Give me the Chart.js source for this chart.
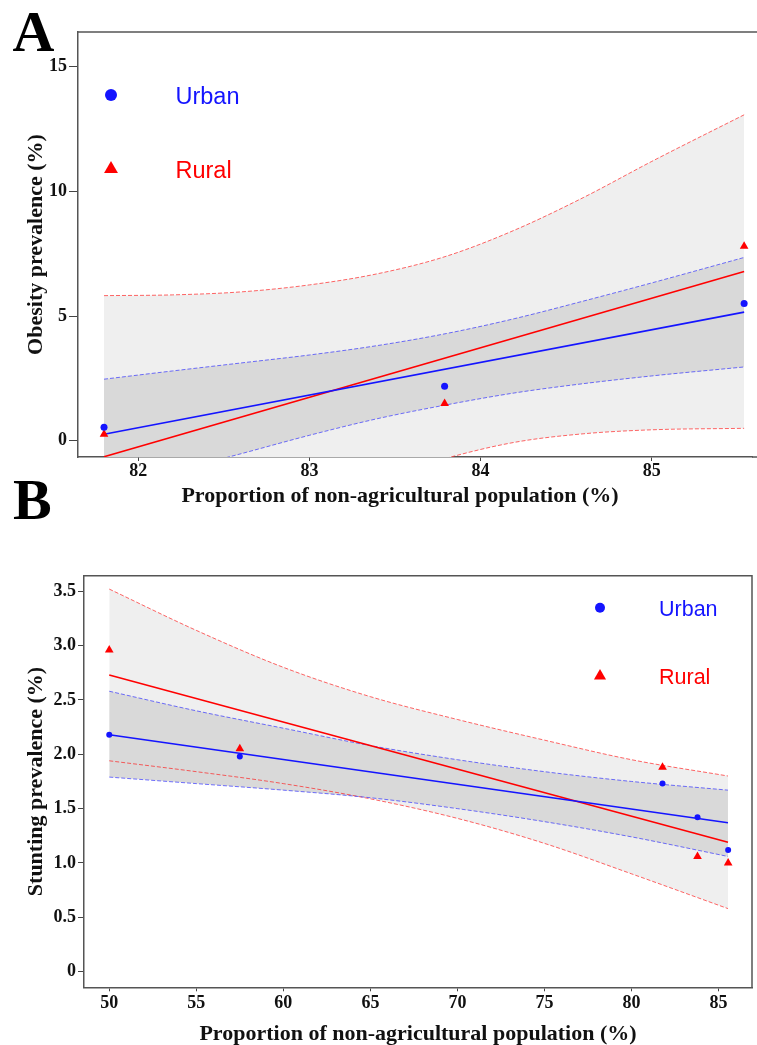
<!DOCTYPE html>
<html>
<head>
<meta charset="utf-8">
<title>Obesity and stunting prevalence vs non-agricultural population</title>
<script src="https://cdn.jsdelivr.net/npm/chart.js@4.4.1/dist/chart.umd.min.js"></script>
<style>
    html, body { margin: 0; padding: 0; background: #fff; }
    #wrap { position: relative; width: 757px; height: 1045px; overflow: hidden; }
    #wrap canvas { position: absolute; left: 0; }
    #chartA { top: 0; }
    #chartB { top: 470px; }
</style>
</head>
<body>
<div id="wrap">
    <canvas id="chartA" width="757" height="530"></canvas>
    <canvas id="chartB" width="757" height="575"></canvas>
</div>
<script>
    // ================================================================
    //  Data
    // ================================================================

    // Panel A: obesity
    var obesityX = [81.8, 83.79, 85.54];
    var urbanObesity = [0.54, 2.19, 5.5];
    var ruralObesity = [0.26, 1.5, 7.8];
    var fitXA = [81.8, 85.54];
    var urbanFitA = [0.26, 5.16];
    var ruralFitA = [-0.64, 6.79];
    var bandXA = [81.8, 82.2, 82.6, 83.0, 83.4, 83.8, 84.2, 84.6, 85.0, 85.54];
    var urbanUpperA = [2.47, 2.8, 3.12, 3.44, 3.82, 4.3, 4.9, 5.6, 6.33, 7.35];
    var urbanLowerA = [-1.95, -1.24, -0.52, 0.22, 0.89, 1.44, 1.92, 2.29, 2.6, 2.96];
    var ruralUpperA = [5.82, 5.85, 5.97, 6.25, 6.7, 7.4, 8.45, 9.75, 11.2, 13.07];
    var ruralLowerA = [-7.1, -5.51, -4.03, -2.69, -1.56, -0.7, -0.06, 0.28, 0.44, 0.5];
    var xTicksA = [82, 83, 84, 85];
    var yTicksA = [0, 5, 10, 15];

    // Panel B: stunting
    var stuntingX = [50, 57.5, 81.78, 83.79, 85.55];
    var urbanStunting = [2.18, 1.98, 1.73, 1.42, 1.12];
    var ruralStunting = [2.96, 2.05, 1.88, 1.06, 1.0];
    var fitXB = [50, 85.54];
    var urbanFitB = [2.18, 1.37];
    var ruralFitB = [2.73, 1.19];
    var bandXB = [50, 55, 60, 65, 70, 75, 80, 85.54];
    var urbanUpperB = [2.58, 2.4, 2.24, 2.08, 1.95, 1.84, 1.75, 1.67];
    var urbanLowerB = [1.79, 1.73, 1.67, 1.6, 1.5, 1.38, 1.24, 1.06];
    var ruralUpperB = [3.52, 3.14, 2.8, 2.53, 2.32, 2.13, 1.95, 1.8];
    var ruralLowerB = [1.94, 1.84, 1.73, 1.59, 1.41, 1.18, 0.9, 0.58];
    var xTicksB = [50, 55, 60, 65, 70, 75, 80, 85];
    var yTicksB = [0, 0.5, 1.0, 1.5, 2.0, 2.5, 3.0, 3.5];

    var X_TITLE = 'Proportion of non-agricultural population (%)';

    // ================================================================
    //  Styling
    // ================================================================
    var SERIF = "'Liberation Serif', 'Times New Roman', serif";
    var SANS = "'Liberation Sans', Arial, sans-serif";
    var BLUE = '#1414ff';
    var RED = '#ff0000';
    var BLUE_DASH = 'rgba(40,40,255,0.65)';
    var RED_DASH = 'rgba(255,20,20,0.65)';
    var FRAME = '#555';

    function pts(xs, ys) {
        return xs.map(function (x, i) { return { x: x, y: ys[i] }; });
    }

    // top / right frame, custom legend and loose texts
    var decorPlugin = {
        id: 'decor',
        afterDraw: function (chart, args, o) {
            var ctx = chart.ctx, a = chart.chartArea;
            ctx.save();
            ctx.strokeStyle = FRAME;
            ctx.lineWidth = 1.5;
            ctx.beginPath();
            ctx.moveTo(a.left, a.top);
            if (o.rightEdge) {
                ctx.lineTo(a.right, a.top);
                ctx.lineTo(a.right, a.bottom);
            } else {
                // frame runs off the right side of the canvas
                ctx.lineTo(chart.width, a.top);
                ctx.moveTo(a.right, a.bottom);
                ctx.lineTo(chart.width, a.bottom);
            }
            ctx.stroke();

            (o.legend || []).forEach(function (it) {
                ctx.fillStyle = it.color;
                ctx.beginPath();
                if (it.shape === 'triangle') {
                    ctx.moveTo(it.x, it.y - it.r);
                    ctx.lineTo(it.x + it.r * 0.866, it.y + it.r / 2);
                    ctx.lineTo(it.x - it.r * 0.866, it.y + it.r / 2);
                    ctx.closePath();
                } else {
                    ctx.arc(it.x, it.y, it.r, 0, Math.PI * 2);
                }
                ctx.fill();
                ctx.font = it.font;
                ctx.textAlign = 'left';
                ctx.textBaseline = 'alphabetic';
                ctx.fillText(it.label, it.textX, it.textY);
            });

            (o.texts || []).forEach(function (t) {
                ctx.fillStyle = t.color || '#000';
                ctx.font = t.font;
                ctx.textAlign = t.align || 'left';
                ctx.textBaseline = 'alphabetic';
                ctx.fillText(t.text, t.x, t.y);
            });
            ctx.restore();
        }
    };

    function makePanel(canvasId, p) {
        var tickFont = { family: SERIF, size: 18, weight: 'bold' };
        var titleFont = { family: SERIF, size: 22, weight: 'bold' };
        return new Chart(document.getElementById(canvasId), {
            type: 'line',
            data: {
                datasets: [
                    { label: 'Urban', data: pts(p.x, p.urban), showLine: false, pointStyle: 'circle',
                      pointRadius: p.dotR, backgroundColor: BLUE, borderColor: BLUE, pointBorderWidth: 0, order: 0 },
                    { label: 'Rural', data: pts(p.x, p.rural), showLine: false, pointStyle: 'triangle',
                      pointRadius: p.triR, backgroundColor: RED, borderColor: RED, pointBorderWidth: 0, order: 1 },
                    { label: 'Urban fit', data: pts(p.fitX, p.urbanFit), borderColor: BLUE, borderWidth: 1.6,
                      pointRadius: 0, fill: false, order: 2 },
                    { label: 'Rural fit', data: pts(p.fitX, p.ruralFit), borderColor: RED, borderWidth: 1.6,
                      pointRadius: 0, fill: false, order: 3 },
                    { label: 'Urban 95% CI', data: pts(p.bandX, p.urbanUpper), borderColor: BLUE_DASH, borderWidth: 1,
                      borderDash: [4, 2], pointRadius: 0, cubicInterpolationMode: 'monotone',
                      fill: '+1', backgroundColor: '#d9d9d9', order: 4 },
                    { label: 'Urban 95% CI lower', data: pts(p.bandX, p.urbanLower), borderColor: BLUE_DASH, borderWidth: 1,
                      borderDash: [4, 2], pointRadius: 0, cubicInterpolationMode: 'monotone', fill: false, order: 5 },
                    { label: 'Rural 95% CI', data: pts(p.bandX, p.ruralUpper), borderColor: RED_DASH, borderWidth: 1,
                      borderDash: [4, 2], pointRadius: 0, cubicInterpolationMode: 'monotone',
                      fill: '+1', backgroundColor: '#efefef', order: 6 },
                    { label: 'Rural 95% CI lower', data: pts(p.bandX, p.ruralLower), borderColor: RED_DASH, borderWidth: 1,
                      borderDash: [4, 2], pointRadius: 0, cubicInterpolationMode: 'monotone', fill: false, order: 7 }
                ]
            },
            options: {
                responsive: false,
                animation: false,
                events: [],
                devicePixelRatio: 1,
                layout: { padding: { top: p.padTop, right: p.padRight, left: 0, bottom: 0 } },
                scales: {
                    x: {
                        type: 'linear',
                        min: p.xMin, max: p.xMax,
                        afterBuildTicks: function (s) { s.ticks = p.xTicks.map(function (v) { return { value: v }; }); },
                        afterFit: function (s) { s.height = p.xAxisH; },
                        grid: { drawOnChartArea: false, drawTicks: true, tickLength: 4, tickColor: '#444' },
                        border: { display: true, color: FRAME, width: 1.5 },
                        ticks: { font: tickFont, color: '#111', padding: p.xTickPad, maxRotation: 0 },
                        title: { display: p.xTitle, text: X_TITLE, font: titleFont, color: '#111',
                                 padding: { top: 0, bottom: -3 } }
                    },
                    y: {
                        min: p.yMin, max: p.yMax,
                        afterBuildTicks: function (s) { s.ticks = p.yTicks.map(function (v) { return { value: v }; }); },
                        afterFit: function (s) { s.width = p.yAxisW; },
                        grid: { drawOnChartArea: false, drawTicks: true, tickLength: p.yTickLen, tickColor: '#444' },
                        border: { display: true, color: FRAME, width: 1.5 },
                        ticks: { font: tickFont, color: '#111', padding: 2, callback: p.yFmt },
                        title: { display: true, text: p.yTitle, font: titleFont, color: '#111', padding: { top: 23, bottom: 0 } }
                    }
                },
                plugins: {
                    legend: { display: false },
                    tooltip: { enabled: false },
                    filler: { drawTime: 'beforeDatasetsDraw' },
                    decor: p.decor
                }
            },
            plugins: [decorPlugin]
        });
    }

    // ================================================================
    //  Panel A
    // ================================================================
    makePanel('chartA', {
        x: obesityX, urban: urbanObesity, rural: ruralObesity,
        fitX: fitXA, urbanFit: urbanFitA, ruralFit: ruralFitA,
        bandX: bandXA, urbanUpper: urbanUpperA, urbanLower: urbanLowerA,
        ruralUpper: ruralUpperA, ruralLower: ruralLowerA,
        xTicks: xTicksA, yTicks: yTicksA,
        xMin: 81.648, xMax: 85.586, yMin: -0.65, yMax: 16.39,
        padTop: 32, padRight: 0, yAxisW: 78, xAxisH: 73, yTickLen: 9, xTickPad: 0,
        dotR: 3.5, triR: 5,
        xTitle: false,
        yTitle: 'Obesity prevalence (%)',
        yFmt: function (v) { return String(v); },
        decor: {
            rightEdge: false,
            legend: [
                { label: 'Urban', shape: 'circle', color: BLUE, x: 111, y: 95, r: 6,
                  textX: 175.5, textY: 104, font: '23.5px ' + SANS },
                { label: 'Rural', shape: 'triangle', color: RED, x: 111, y: 169, r: 8,
                  textX: 175.5, textY: 178.3, font: '23.5px ' + SANS }
            ],
            texts: [
                { text: 'A', x: 12.5, y: 50.7, font: 'bold 58px ' + SERIF },
                { text: X_TITLE, x: 400, y: 502, align: 'center', color: '#111', font: 'bold 22px ' + SERIF }
            ]
        }
    });

    // ================================================================
    //  Panel B
    // ================================================================
    makePanel('chartB', {
        x: stuntingX, urban: urbanStunting, rural: ruralStunting,
        fitX: fitXB, urbanFit: urbanFitB, ruralFit: ruralFitB,
        bandX: bandXB, urbanUpper: urbanUpperB, urbanLower: urbanLowerB,
        ruralUpper: ruralUpperB, ruralLower: ruralLowerB,
        xTicks: xTicksB, yTicks: yTicksB,
        xMin: 48.55, xMax: 86.92, yMin: -0.144, yMax: 3.643,
        padTop: 105.7, padRight: 4.3, yAxisW: 84, xAxisH: 57.7, yTickLen: 6, xTickPad: 1,
        dotR: 3, triR: 5,
        xTitle: true,
        yTitle: 'Stunting prevalence (%)',
        yFmt: function (v) { return v === 0 ? '0' : v.toFixed(1); },
        decor: {
            rightEdge: true,
            legend: [
                { label: 'Urban', shape: 'circle', color: BLUE, x: 600, y: 137.7, r: 5,
                  textX: 659, textY: 145.7, font: '21.5px ' + SANS },
                { label: 'Rural', shape: 'triangle', color: RED, x: 600, y: 206, r: 7,
                  textX: 659, textY: 214.3, font: '21.5px ' + SANS }
            ],
            texts: [
                { text: 'B', x: 13, y: 49, font: 'bold 58px ' + SERIF }
            ]
        }
    });
</script>
</body>
</html>
